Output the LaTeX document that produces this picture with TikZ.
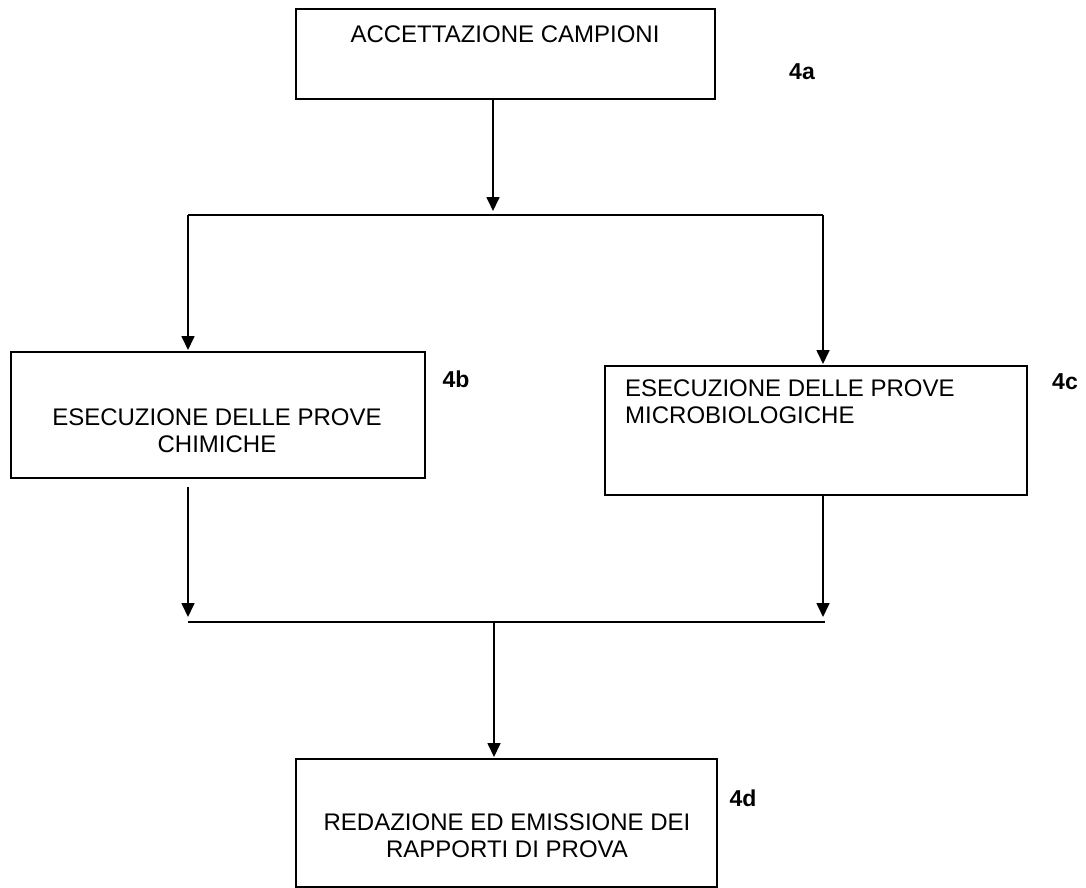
\documentclass[tikz,border=0pt]{standalone}
\usepackage{fontspec}
\setmainfont{Liberation Sans}
\usetikzlibrary{arrows.meta}
\begin{document}
\begin{tikzpicture}[x=1pt,y=-1pt,
  stepbox/.style={draw, line width=1.7pt, inner sep=0pt, anchor=north west},
  txt/.style={font=\fontsize{24}{27}\selectfont, inner sep=0pt, align=center},
  tag/.style={font=\fontsize{23}{26}\selectfont\bfseries, inner sep=0pt},
  ln/.style={line width=1.7pt},
  arr/.style={line width=1.7pt, -{Triangle[length=14pt,width=13pt]}}]
\useasboundingbox (0,0) rectangle (1086,888);

% process boxes
\node[stepbox, minimum width=419pt, minimum height=90pt]  (a) at (295,8)   {};
\node[stepbox, minimum width=414pt, minimum height=126pt] (b) at (10,351)  {};
\node[stepbox, minimum width=422pt, minimum height=129pt] (c) at (604,365) {};
\node[stepbox, minimum width=421pt, minimum height=128pt] (d) at (295,758) {};

% box texts
\node[txt] (ta) at (505,34) {ACCETTAZIONE CAMPIONI};
\node[txt] (tb) at (217,431) {ESECUZIONE DELLE PROVE\\CHIMICHE};
\node[txt, align=left, anchor=north west] (tc) at (625,380) {ESECUZIONE DELLE PROVE\\MICROBIOLOGICHE};
\node[txt] (td) at (507,836) {REDAZIONE ED EMISSIONE DEI\\RAPPORTI DI PROVA};

% step tags
\node[tag] (la) at (802,72)  {4a};
\node[tag] (lb) at (456,379) {4b};
\node[tag] (lc) at (1065,382) {4c};
\node[tag] (ld) at (743,798) {4d};

% split and merge points
\coordinate (ja) at (493,215);
\coordinate (jl) at (188,215);
\coordinate (jr) at (823,215);
\coordinate (kl) at (188,622);
\coordinate (kr) at (825,622);
\coordinate (km) at (494,622);

% connectors
\draw[arr, shorten >=4pt] (ja |- a.south) -- (ja);
\draw[ln] (jl) -- (jr);
\draw[arr, shorten >=1pt] (jl) -- (jl |- b.north);
\draw[arr, shorten >=1pt] (jr) -- (jr |- c.north);
\draw[arr, shorten <=8pt, shorten >=5pt] (kl |- b.south) -- (kl);
\draw[arr, shorten >=5pt] (jr |- c.south) -- (jr |- kl);
\draw[ln] (kl) -- (kr);
\draw[arr, shorten >=1pt] (km) -- (km |- d.north);
\end{tikzpicture}
\end{document}
